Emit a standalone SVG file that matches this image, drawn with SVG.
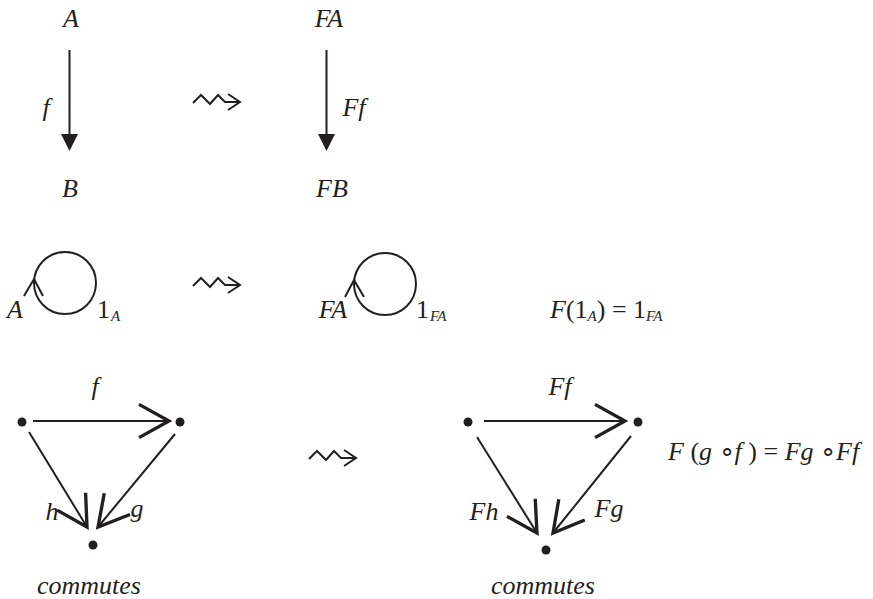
<svg xmlns="http://www.w3.org/2000/svg" width="873" height="599" viewBox="0 0 873 599">
<defs>
<style>
text{font-family:"Liberation Serif","Times New Roman",serif;font-size:26px;fill:#231f20}
.i{font-style:italic}
.s{font-size:15px;font-style:italic}
.ln{stroke:#231f20;stroke-width:2;fill:none}
.dot{fill:#231f20}
.head{fill:#231f20;stroke:none}
</style>
<marker id="chev" markerUnits="userSpaceOnUse" markerWidth="40" markerHeight="40" viewBox="-20 -12 24 24" refX="0" refY="0" orient="auto" overflow="visible">
<path d="M-18,-10 L0,0 L-18,10" fill="none" stroke="#231f20" stroke-width="2"/>
</marker>
<g id="squig">
<path class="ln" d="M193,103 L201,95 L210,104 L218,95 L225,102 L240,102"/>
<path class="ln" d="M228,94 L240,102 L228,110"/>
</g>
</defs>
<rect width="873" height="599" fill="#fff"/>

<g id="row1">
<g id="nA"><text class="i" x="71" y="27" text-anchor="middle">A</text></g>
<g id="nB"><text class="i" x="70" y="197" text-anchor="middle">B</text></g>
<g id="nFA"><text class="i" x="329" y="27" text-anchor="middle">FA</text></g>
<g id="nFB"><text class="i" x="332" y="197" text-anchor="middle">FB</text></g>
</g>

<g id="row2">
<g id="nA2"><text class="i" x="15" y="318" text-anchor="middle">A</text></g>
<g id="nFA2"><text class="i" x="333" y="318" text-anchor="middle">FA</text></g>
</g>

<g id="row3">
<g id="d1"><circle class="dot" cx="22" cy="422" r="4.5"/></g>
<g id="d2"><circle class="dot" cx="180" cy="422" r="4.5"/></g>
<g id="d3"><circle class="dot" cx="93" cy="545" r="4.5"/></g>
<g id="d4"><circle class="dot" cx="468" cy="422" r="4.5"/></g>
<g id="d5"><circle class="dot" cx="638" cy="422" r="4.5"/></g>
<g id="d6"><circle class="dot" cx="546" cy="550" r="4.5"/></g>
</g>

<g id="connectors">
<line class="ln" x1="69.5" y1="50" x2="69.5" y2="136" stroke-width="2.5"/>
<path class="head" d="M61,134 L78,134 L69.5,151 Z"/>
<text class="i" x="46" y="116" text-anchor="middle">f</text>
<line class="ln" x1="326.5" y1="50" x2="326.5" y2="136" stroke-width="2.5"/>
<path class="head" d="M318,134 L335,134 L326.5,151 Z"/>
<text class="i" x="354" y="116" text-anchor="middle">Ff</text>

<use href="#squig"/>
<use href="#squig" transform="translate(0,183)"/>
<use href="#squig" transform="translate(116,356)"/>

<circle class="ln" cx="65" cy="283" r="31"/>
<path class="ln" d="M24,296 L34,279 L43,296"/>
<text x="97" y="318">1</text><text class="s" x="111" y="321">A</text>

<circle class="ln" cx="385" cy="284" r="31"/>
<path class="ln" d="M345,297 L354,280 L364,297"/>
<text x="416" y="318">1</text><text class="s" x="430" y="321">FA</text>

<line class="ln" x1="33" y1="421" x2="169" y2="421" marker-end="url(#chev)"/>
<line class="ln" x1="29" y1="432" x2="87" y2="527" marker-end="url(#chev)"/>
<line class="ln" x1="175" y1="434" x2="98" y2="527" marker-end="url(#chev)"/>
<text class="i" x="95" y="395" text-anchor="middle">f</text>
<text class="i" x="52" y="520" text-anchor="middle">h</text>
<text class="i" x="137" y="517" text-anchor="middle">g</text>

<line class="ln" x1="484" y1="421" x2="625" y2="421" marker-end="url(#chev)"/>
<line class="ln" x1="477" y1="437" x2="537" y2="533" marker-end="url(#chev)"/>
<line class="ln" x1="631" y1="436" x2="553" y2="533" marker-end="url(#chev)"/>
<text class="i" x="560" y="395" text-anchor="middle">Ff</text>
<text class="i" x="484" y="520" text-anchor="middle">Fh</text>
<text class="i" x="609" y="517" text-anchor="middle">Fg</text>
</g>

<g id="labels">
<text x="550" y="318"><tspan class="i">F</tspan>(1<tspan class="s" dy="3">A</tspan><tspan dy="-3">) = 1</tspan><tspan class="s" dy="3">FA</tspan></text>
<text x="668" y="460"><tspan class="i">F</tspan> (<tspan class="i">g</tspan> ∘<tspan class="i">f</tspan> ) = <tspan class="i">Fg</tspan> ∘<tspan class="i">Ff</tspan></text>
<text class="i" x="89" y="594" text-anchor="middle">commutes</text>
<text class="i" x="543" y="594" text-anchor="middle">commutes</text>
</g>
</svg>
